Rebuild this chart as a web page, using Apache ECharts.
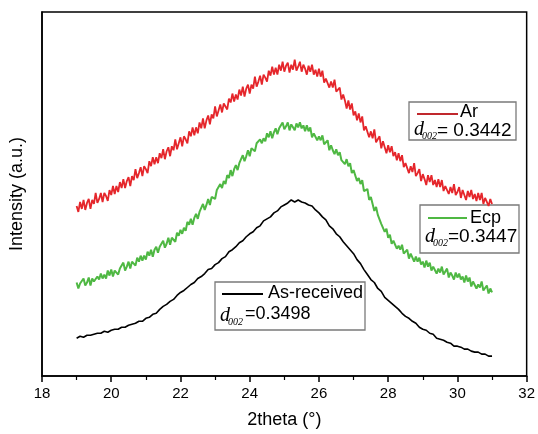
<!DOCTYPE html>
<html><head><meta charset="utf-8">
<script src="https://cdn.jsdelivr.net/npm/echarts@6/dist/echarts.min.js"></script>
<style>html,body{margin:0;padding:0;background:#fff}#c{width:538px;height:434px}</style>
</head><body><div id="c"></div>
<script>
// 2theta sampling for the As-received scan (0.1 deg)
const twoTheta = [19,19.1,19.2,19.3,19.4,19.5,19.6,19.7,19.8,19.9,
20,20.1,20.2,20.3,20.4,20.5,20.6,20.7,20.8,20.9,
21,21.1,21.2,21.3,21.4,21.5,21.6,21.7,21.8,21.9,
22,22.1,22.2,22.3,22.4,22.5,22.6,22.7,22.8,22.9,
23,23.1,23.2,23.3,23.4,23.5,23.6,23.7,23.8,23.9,
24,24.1,24.2,24.3,24.4,24.5,24.6,24.7,24.8,24.9,
25,25.1,25.2,25.3,25.4,25.5,25.6,25.7,25.8,25.9,
26,26.1,26.2,26.3,26.4,26.5,26.6,26.7,26.8,26.9,
27,27.1,27.2,27.3,27.4,27.5,27.6,27.7,27.8,27.9,
28,28.1,28.2,28.3,28.4,28.5,28.6,28.7,28.8,28.9,
29,29.1,29.2,29.3,29.4,29.5,29.6,29.7,29.8,29.9,
30,30.1,30.2,30.3,30.4,30.5,30.6,30.7,30.8,30.9,31];

// 2theta sampling for the noisier Ar and Ecp scans (0.05 deg)
const twoThetaFine = [19,19.05,19.1,19.15,19.2,19.25,19.3,19.35,19.4,19.45,
19.5,19.55,19.6,19.65,19.7,19.75,19.8,19.85,19.9,19.95,
20,20.05,20.1,20.15,20.2,20.25,20.3,20.35,20.4,20.45,
20.5,20.55,20.6,20.65,20.7,20.75,20.8,20.85,20.9,20.95,
21,21.05,21.1,21.15,21.2,21.25,21.3,21.35,21.4,21.45,
21.5,21.55,21.6,21.65,21.7,21.75,21.8,21.85,21.9,21.95,
22,22.05,22.1,22.15,22.2,22.25,22.3,22.35,22.4,22.45,
22.5,22.55,22.6,22.65,22.7,22.75,22.8,22.85,22.9,22.95,
23,23.05,23.1,23.15,23.2,23.25,23.3,23.35,23.4,23.45,
23.5,23.55,23.6,23.65,23.7,23.75,23.8,23.85,23.9,23.95,
24,24.05,24.1,24.15,24.2,24.25,24.3,24.35,24.4,24.45,
24.5,24.55,24.6,24.65,24.7,24.75,24.8,24.85,24.9,24.95,
25,25.05,25.1,25.15,25.2,25.25,25.3,25.35,25.4,25.45,
25.5,25.55,25.6,25.65,25.7,25.75,25.8,25.85,25.9,25.95,
26,26.05,26.1,26.15,26.2,26.25,26.3,26.35,26.4,26.45,
26.5,26.55,26.6,26.65,26.7,26.75,26.8,26.85,26.9,26.95,
27,27.05,27.1,27.15,27.2,27.25,27.3,27.35,27.4,27.45,
27.5,27.55,27.6,27.65,27.7,27.75,27.8,27.85,27.9,27.95,
28,28.05,28.1,28.15,28.2,28.25,28.3,28.35,28.4,28.45,
28.5,28.55,28.6,28.65,28.7,28.75,28.8,28.85,28.9,28.95,
29,29.05,29.1,29.15,29.2,29.25,29.3,29.35,29.4,29.45,
29.5,29.55,29.6,29.65,29.7,29.75,29.8,29.85,29.9,29.95,
30,30.05,30.1,30.15,30.2,30.25,30.3,30.35,30.4,30.45,
30.5,30.55,30.6,30.65,30.7,30.75,30.8,30.85,30.9,30.95,31];

const arIntensity = [171,165,175,168,177,167,174,178,168,177,
173,184,174,178,184,175,184,181,176,187,
182,191,183,191,185,195,189,198,189,196,
200,191,201,197,208,199,204,210,201,211,
208,204,216,211,220,213,220,214,224,219,
228,218,226,230,221,231,227,238,228,234,
240,231,241,238,234,246,241,250,242,250,
244,255,249,259,249,257,262,253,263,259,
271,261,267,273,265,274,271,268,279,275,
284,276,283,278,288,282,291,281,289,293,
284,293,289,301,291,296,302,293,303,300,
296,307,302,311,303,310,303,313,307,316,
306,312,315,305,313,308,318,307,311,316,
306,313,309,303,312,306,313,303,308,301,
309,301,307,295,299,301,290,296,290,298,
286,288,290,278,283,277,269,277,268,274,
262,266,257,264,255,261,247,251,252,240,
246,239,248,235,238,241,229,236,230,224,
232,225,231,221,225,217,224,216,222,210,
214,216,204,211,205,214,201,204,208,196,
203,198,192,202,195,202,192,197,190,198,
190,197,186,191,193,183,190,184,193,182,
185,190,179,187,182,177,186,180,187,178,
183,176,184,177,184,173,179,181,171,178,173];

const ecpIntensity = [94,88,93,91,98,91,94,99,91,98,
95,93,100,97,103,98,102,98,106,101,
107,100,106,108,102,108,106,114,106,110,
115,108,115,113,111,119,115,121,116,121,
117,125,121,127,120,127,130,124,130,128,
136,129,133,139,132,139,137,135,144,141,
147,143,149,146,155,152,158,152,159,163,
158,165,164,173,167,172,178,172,180,179,
178,187,186,193,189,196,193,202,199,207,
201,208,212,207,214,213,222,216,221,227,
221,229,227,226,234,232,238,234,239,236,
244,240,246,239,245,249,243,249,247,255,
248,251,255,247,253,250,247,254,250,255,
249,252,246,252,246,250,240,244,245,237,
241,237,242,233,234,237,227,232,227,223,
228,222,225,217,219,213,218,211,214,204,
207,206,196,199,193,197,186,186,188,177,
180,173,166,170,162,163,153,153,145,148,
139,142,133,136,137,128,131,127,132,123,
124,127,118,123,119,115,120,115,119,112,
115,109,116,110,114,106,110,111,103,108,
104,110,102,104,108,99,104,101,97,104,
99,103,97,100,94,101,95,99,90,95,
96,88,92,89,95,86,88,91,83,88,84];

const asReceivedIntensity = [38,40,39,41,41,42,43,43,45,44,
46,47,47,49,49,51,52,53,55,55,
58,59,62,63,67,70,72,75,77,81,
84,86,89,92,94,98,100,103,107,108,
112,114,118,120,125,127,130,134,136,140,
143,145,149,151,156,158,160,164,166,170,
172,174,177,175,177,175,174,172,171,167,
164,160,157,151,148,143,140,135,131,127,
123,117,113,107,102,97,94,88,85,79,
76,73,70,67,63,60,58,55,53,49,
47,46,43,42,38,37,36,34,33,30,
30,29,27,27,25,24,24,22,22,20,20];

const xTicks = [18,20,22,24,26,28,30,32];
const seriesNames = ['Ar','Ecp','As-received'];
const dValues = ['= 0.3442','=0.3447','=0.3498'];

const pair = (xs, arr) => arr.map((v,i)=>[xs[i], v]);
const chart = echarts.init(document.getElementById('c'));
const sans = 'Liberation Sans, Arial, sans-serif';
const serif = 'Liberation Serif, Times New Roman, serif';

function legendBox(b) {
  return {
    type: 'group', children: [
      {type:'rect', shape:{x:b.x,y:b.y,width:b.w,height:b.h}, style:{fill:'#fff', stroke:'#7a7a7a', lineWidth:1.3}},
      {type:'line', shape:{x1:b.l1,y1:b.ly,x2:b.l2,y2:b.ly}, style:{stroke:b.color, lineWidth:2}},
      {type:'text', x:b.nx, y:b.ny, style:{text:b.name, font:'18px '+sans, fill:'#000', textVerticalAlign:'middle'}},
      {type:'text', x:b.dx, y:b.dy, style:{text:'d', font:'italic 20px '+serif, fill:'#000', textVerticalAlign:'middle'}},
      {type:'text', x:b.sx, y:b.sy, style:{text:'002', font:'italic 10px '+serif, fill:'#000', textVerticalAlign:'middle'}},
      {type:'text', x:b.vx, y:b.vy, style:{text:b.val, font:b.vs+'px '+sans, fill:'#000', textVerticalAlign:'middle'}}
    ]
  };
}

chart.setOption({
  animation: false,
  backgroundColor: '#fff',
  grid: {left: 40, right: 8, top: 12, bottom: 56, show: true, borderColor: '#000', borderWidth: 1.5, backgroundColor: 'transparent'},
  xAxis: {
    type: 'value', min: xTicks[0], max: xTicks[xTicks.length-1], interval: 2,
    name: '2theta (°)', nameLocation: 'middle', nameGap: 35,
    nameTextStyle: {fontSize: 18, fontFamily: sans, color: '#000'},
    axisLine: {lineStyle: {color: '#000', width: 1.5}},
    axisTick: {show: true, inside: false, length: 6, lineStyle: {color: '#000', width: 1.5}},
    minorTick: {show: true, splitNumber: 2, length: 4, lineStyle: {color: '#000', width: 1.2}},
    axisLabel: {fontSize: 15, fontFamily: sans, color: '#000', margin: 10},
    splitLine: {show: false}
  },
  yAxis: {
    type: 'value', min: 0, max: 366,
    name: 'Intensity (a.u.)', nameLocation: 'middle', nameGap: 16,
    nameTextStyle: {fontSize: 18, fontFamily: sans, color: '#000'},
    axisLine: {show: true, lineStyle: {color: '#000', width: 1.5}},
    axisTick: {show: false}, axisLabel: {show: false}, splitLine: {show: false}
  },
  series: [
    {name: seriesNames[2], type: 'line', data: pair(twoTheta, asReceivedIntensity), symbol: 'none', lineStyle: {color: '#000', width: 1.6}},
    {name: seriesNames[1], type: 'line', data: pair(twoThetaFine, ecpIntensity), symbol: 'none', lineStyle: {color: '#4fb843', width: 2}},
    {name: seriesNames[0], type: 'line', data: pair(twoThetaFine, arIntensity), symbol: 'none', lineStyle: {color: '#e5262b', width: 1.8}}
  ],
  graphic: [
    legendBox({x:409,y:102,w:107,h:38,l1:417,l2:458,ly:114,color:'#c0282d',name:seriesNames[0],nx:460,ny:112,dx:414,dy:130,sx:422,sy:136,vx:437,vy:131,vs:19,val:dValues[0]}),
    legendBox({x:420,y:205,w:99,h:48,l1:428,l2:467,ly:218,color:'#4fb843',name:seriesNames[1],nx:470,ny:218,dx:425,dy:237,sx:433,sy:243,vx:448,vy:237,vs:19,val:dValues[1]}),
    legendBox({x:215,y:282,w:150,h:48,l1:222,l2:263,ly:294,color:'#000',name:seriesNames[2],nx:268,ny:293,dx:220,dy:316,sx:228,sy:322,vx:245,vy:314,vs:18,val:dValues[2]})
  ]
});
</script></body></html>
